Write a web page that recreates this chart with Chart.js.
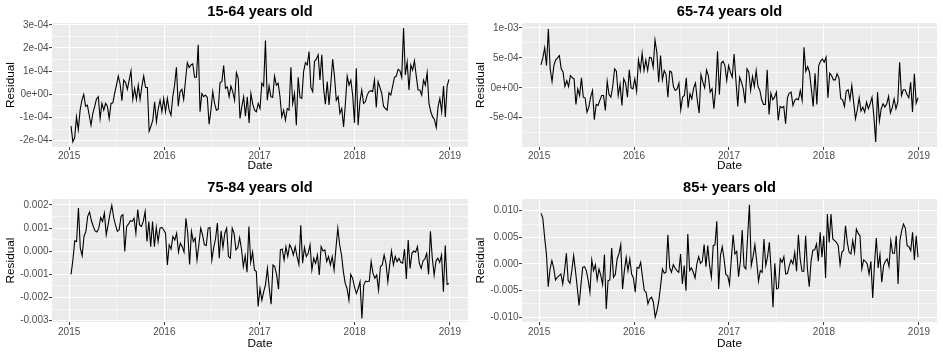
<!DOCTYPE html>
<html>
<head>
<meta charset="utf-8">
<script src="https://cdn.jsdelivr.net/npm/chart.js@4.4.1/dist/chart.umd.min.js"></script>
<style>
  body { margin: 0; background: #fff; }
  #wrap { position: relative; width: 943px; height: 355px; overflow: hidden; }
  #wrap canvas { position: absolute; }
</style>
</head>
<body>
<div id="wrap">
  <canvas id="p1" width="471" height="176" style="left:0;top:0"></canvas>
  <canvas id="p2" width="473" height="176" style="left:470px;top:0"></canvas>
  <canvas id="p3" width="471" height="179" style="left:0;top:176px"></canvas>
  <canvas id="p4" width="473" height="179" style="left:470px;top:176px"></canvas>
</div>
<script>
// weekly residuals, first and last week as decimal years
const dateStart = 2015.02;
const dateEnd = 2018.99;
const yearTicks = [2015, 2016, 2017, 2018, 2019];
const yearLabels = ["2015", "2016", "2017", "2018", "2019"];

// 15-64 years old (x 1e-4)
const resid1564 = [-1.37,-2.05,-1.86,-0.97,-1.52,-0.68,-0.25,0.00,-0.51,-0.46,-0.90,-1.33,-0.82,-0.53,-0.20,-0.10,-1.04,-0.39,-0.68,-0.39,-0.51,-1.04,-0.39,-0.36,0.04,0.40,0.79,0.45,-0.27,0.62,0.51,0.22,0.62,1.01,-0.22,0.26,-0.22,0.40,-0.22,0.36,0.79,0.30,0.30,-1.59,-1.37,-1.11,-0.32,-1.18,-0.61,-0.25,-0.75,-0.17,-0.75,-0.17,-0.68,-0.90,-0.10,0.40,1.17,-0.51,0.12,0.22,-0.22,0.62,1.37,1.16,1.27,1.32,0.74,0.74,2.14,-0.75,0.04,-0.10,-0.03,-0.13,-1.29,-0.68,0.12,-0.39,-0.68,-0.65,0.51,0.55,1.24,0.26,0.33,-0.10,0.36,0.12,-0.25,0.94,0.69,-1.04,-0.53,-0.10,-0.94,-0.10,-1.23,0.04,-0.42,-0.68,-0.75,
  -0.39,-0.61,0.48,0.36,2.33,-0.25,0.36,-0.10,-0.13,0.79,0.40,0.48,-0.10,-0.97,-0.68,-1.11,-0.61,-0.68,1.17,-0.39,0.04,-1.33,0.74,-0.13,-0.17,0.98,1.37,1.27,1.85,0.30,0.12,1.42,1.52,1.71,0.62,1.71,0.26,-0.42,0.55,-0.46,0.48,1.52,0.77,-0.25,-0.10,-0.82,-0.61,-1.40,-0.39,0.79,0.40,0.62,-0.03,-1.23,1.13,-1.33,-0.32,0.19,-0.39,-0.32,-0.03,0.12,0.16,0.12,0.62,-0.56,0.55,0.30,0.04,-0.51,-0.61,-0.68,0.07,-0.03,0.36,0.74,0.79,1.08,1.03,0.74,2.86,0.84,1.40,0.19,1.27,1.05,1.45,0.79,0.19,0.19,-0.03,0.62,0.40,0.94,-0.39,-0.75,-0.97,-1.08,-1.43,-0.53,-0.17,-0.75,0.36,-0.97,0.36,0.65];

// 65-74 years old (x 1e-4)
const resid6574 = [3.83,5.0,6.67,3.72,9.83,3.17,1.06,3.72,4.67,5.0,5.39,3.17,2.61,0.22,1.22,0.22,2.06,1.67,1.5,-2.78,-0.17,-1.28,1.67,-1.56,-1.67,-4.06,-3.22,-1.56,-0.44,-5.33,-2.78,-2.94,-2.11,-1.28,-1.28,-3.78,1.11,-1.11,-1.56,0.22,3.17,2.78,-1.28,0.56,-2.94,1.5,0.78,-1.56,3.0,0,-0.17,1.5,-0.56,4.67,2.89,5.78,2.89,4.67,2.89,5.11,5.0,3.44,8.0,5.94,0.94,5.39,1.33,2.89,2.22,-1.56,2.78,2.61,0.22,-0.44,-0.17,0.78,-3.67,-1.56,-1.28,1.67,-3.33,-1.0,-1.83,0,0.78,-2.11,-4.22,2.22,0.94,0,3.0,2.06,-0.72,-0.17,-3.5,-0.17,6.11,
  -1.11,4.11,4.44,3.72,1.22,3.72,2.61,1.78,5.67,1.22,-3.11,1.78,0.94,-0.17,-2.56,3.17,2.61,-0.44,1.89,0.22,2.89,0.22,-0.44,-2.0,-2.78,-2.78,3.0,-4.44,-0.89,-2.0,-1.56,-0.72,-5.44,-3.11,-3.33,-3.11,-6.0,-1.67,-0.89,-0.72,-2.94,-2.11,-1.83,-2.0,-0.44,-2.11,6.78,2.78,3.56,2.61,-0.17,-3.11,2.44,-2.78,3.72,4.44,4.83,4.28,5.11,-1.67,2.44,2.06,1.33,1.33,2.33,1.67,-1.83,-2.0,-3.11,-0.56,-0.33,-2.0,0.39,-2.39,-5.17,-3.67,-1.67,-3.89,-3.22,-4.06,-2.39,-3.5,-2.67,-1.56,-4.78,-9.06,-0.72,-5.56,-3.5,-2.67,-3.22,-2.67,-1.44,-4.22,-3.33,-1.83,-3.5,-2.39,4.28,-1.28,-0.33,-0.33,-1.11,-1.67,0.94,-4.06,2.33,-2.56,-1.67];

// 75-84 years old (x 1e-3)
const resid7584 = [-1.0,-0.38,0.45,0.42,1.87,0.13,-0.19,0.64,0.86,1.51,1.70,1.32,1.07,0.88,0.83,1.0,1.46,1.29,1.65,0.71,1.14,1.61,1.99,1.46,1.14,0.86,0.93,1.51,1.58,-0.01,1.07,1.17,1.32,1.29,1.43,0.78,1.80,1.14,1.07,1.29,1.72,0.42,1.29,0.20,1.29,0.20,1.03,0.42,1.0,1.03,0.93,0.78,-0.59,0.28,0.10,0.64,0.49,0.78,-0.04,0.35,0.20,-0.04,1.43,0.78,-0.57,0.86,0.42,0.57,-0.38,0.28,1.0,0.71,0.28,0.25,1.0,1.03,-0.38,0.16,0.54,1.22,-0.30,0.88,0.16,0.78,1.0,-0.23,-0.30,1.0,0.78,0.06,0.16,0.59,0.10,-0.67,-0.19,-0.91,
  1.07,-0.48,-0.04,-0.81,-0.88,-2.39,-1.61,-2.12,-1.75,-1.43,-0.74,-1.61,-2.29,-0.59,-0.67,-1.03,-1.64,0.06,0.10,-0.38,0.20,-0.23,0.28,0.13,-0.16,0.20,-0.23,-0.57,1.12,-0.52,0.16,-0.23,-0.09,0.28,-0.81,-0.30,-0.52,-0.16,-1.03,0.20,0.01,0.06,-0.45,-0.23,-0.59,-0.23,-0.81,0.13,1.0,0.28,-0.16,-0.88,-1.39,-1.61,-2.12,-1.0,-1.17,-1.54,-1.83,-1.61,-1.32,-2.91,-1.46,-1.29,-1.32,-1.29,-0.45,-0.96,-1.17,-1.03,-1.68,-0.67,-0.59,-0.16,-0.52,-1.32,-0.59,0.01,-0.59,-0.23,-0.45,-0.30,-0.48,-0.52,0.10,-1.20,0.49,-0.74,-0.09,0.01,-0.04,0.20,-0.52,-0.74,-0.42,-0.33,-0.09,-1.0,0.86,-0.30,-1.03,-0.42,-0.30,-0.48,-0.16,-1.75,0.25,-1.43,-1.39];

// 85+ years old (x 1e-3)
const resid85 = [9.5,8.63,5.0,1.88,-4.25,-0.94,0.63,-0.75,-3.0,-2.5,-2.19,-1.88,-3.75,-1.25,2.0,-3.13,-3.63,-1.25,1.56,-1.25,-4.38,-7.81,-4.06,-0.63,-0.5,-1.25,-3.0,-5.31,0.75,-1.25,-0.13,-3.0,-0.94,-2.19,-3.88,1.75,-8.44,-3.13,-3.0,3.0,-2.5,-2.0,0.94,1.88,3.63,-4.69,-1.25,1.25,-1.25,0.94,-1.88,-2.63,-5.31,-0.63,-0.81,0.31,-2.5,-5.0,-5.31,-7.5,-6.56,-6.25,-7.19,-10.0,-8.75,-6.88,-4.06,-0.94,-1.75,-1.56,5.5,-0.75,-1.56,-0.13,-0.81,-1.25,-1.56,1.88,-3.75,-0.31,-5.0,5.63,-1.25,-0.75,-1.56,-2.63,0,1.38,0.13,0.5,3.63,-0.5,3.44,-0.31,-2.5,3.44,3.63,8.0,-4.69,
  1.56,3.25,0.94,-2.0,-2.19,-3.88,0.94,5.5,1.88,2.38,-2.38,0.5,6.38,-0.5,-0.94,5.13,11.13,-0.31,1.38,3.63,0.5,-3.25,-1.25,-1.56,4.69,-0.31,1.38,4.06,-1.38,-8.13,0.13,-4.69,-4.5,0.94,0.31,1.38,-1.88,-1.75,-0.31,0.75,0,2.19,-1.38,5.5,0.94,-1.38,-1.38,5.31,-0.94,-4.25,0.5,2.63,2.63,3.75,0.5,5.94,1.25,5.31,-2.63,9.38,4.06,9.38,4.69,4.38,4.06,3.44,-0.13,2.19,2.63,7.19,4.06,2.19,1.88,4.38,2.19,6.56,5.75,5.31,-0.94,0.75,0.5,0,-1.88,0.5,-6.38,0,4.88,-0.75,1.75,-3.44,-0.31,0.5,0.94,-0.5,4.38,2.0,2.0,5.31,-3.75,4.38,6.25,7.5,6.75,3.44,3.25,2.5,5.94,0.75,5.31,1.25];

// y breaks and their labels
const breaks1564 = [-2e-4, -1e-4, 0, 1e-4, 2e-4, 3e-4];
const labels1564 = ["-2e-04", "-1e-04", "0e+00", "1e-04", "2e-04", "3e-04"];
const breaks6574 = [-1e-3, -5e-4, 0, 5e-4, 1e-3];
const labels6574 = ["-1e-03", "-5e-04", "0e+00", "5e-04", "1e-03"];
const breaks7584 = [-0.003, -0.002, -0.001, 0, 0.001, 0.002];
const labels7584 = ["-0.003", "-0.002", "-0.001", "0.000", "0.001", "0.002"];
const breaks85 = [-0.01, -0.005, 0, 0.005, 0.01];
const labels85 = ["-0.010", "-0.005", "0.000", "0.005", "0.010"];

const font = "'Liberation Sans', Arial, Helvetica, sans-serif";

// grey panel behind the grid, like ggplot
const panelBg = {
  id: "panelBg",
  beforeDraw(chart) {
    const a = chart.chartArea;
    const c = chart.ctx;
    c.save();
    c.fillStyle = "#EBEBEB";
    c.fillRect(a.left, a.top, a.right - a.left, a.bottom - a.top);
    c.restore();
  },
};

function withMinors(major, min, max) {
  const all = major.slice();
  for (let i = 0; i < major.length - 1; i++) all.push((major[i] + major[i + 1]) / 2);
  return all.filter((v) => v >= min && v <= max).sort((a, b) => a - b);
}

function axisGrid(labelMap) {
  return {
    color: "#FFFFFF",
    lineWidth: (ctx) => (ctx.tick && ctx.tick.value in labelMap ? 1.1 : 0.55),
    tickColor: (ctx) => (ctx.tick && ctx.tick.value in labelMap ? "#333333" : "rgba(0,0,0,0)"),
    tickLength: 3,
    tickWidth: 1,
  };
}

function residualChart(id, cfg) {
  const yMap = {};
  cfg.breaks.forEach((v, i) => (yMap[v] = cfg.labels[i]));
  const xMap = {};
  yearTicks.forEach((v, i) => (xMap[v] = yearLabels[i]));

  const xMin = 2014.82, xMax = 2019.19;
  const yTicks = withMinors(cfg.breaks, cfg.yMin, cfg.yMax);
  const xTicks = withMinors(yearTicks, xMin, xMax);

  const n = cfg.values.length;
  const points = cfg.values.map((v, i) => ({
    x: dateStart + (i * (dateEnd - dateStart)) / (n - 1),
    y: v * cfg.unit,
  }));

  new Chart(document.getElementById(id), {
    type: "line",
    data: {
      datasets: [
        {
          data: points,
          borderColor: "#000000",
          borderWidth: 1.1,
          pointRadius: 0,
          tension: 0,
          fill: false,
        },
      ],
    },
    options: {
      responsive: false,
      animation: false,
      devicePixelRatio: 1,
      layout: { padding: { right: cfg.padRight, left: 0, top: 0, bottom: 0 } },
      plugins: {
        legend: { display: false },
        tooltip: { enabled: false },
        title: {
          display: true,
          text: cfg.title,
          fullSize: false,
          color: "#000000",
          font: { family: font, size: 14.6, weight: "bold" },
          padding: { top: 3.5, bottom: 2 },
        },
      },
      scales: {
        x: {
          type: "linear",
          min: xMin,
          max: xMax,
          afterBuildTicks: (ax) => { ax.ticks = xTicks.map((v) => ({ value: v })); },
          afterFit: (ax) => { ax.height = cfg.xHeight; },
          border: { display: false },
          grid: axisGrid(xMap),
          ticks: {
            autoSkip: false,
            maxRotation: 0,
            padding: cfg.xTickPad,
            color: "#4D4D4D",
            font: { family: font, size: 10 },
            callback: (v) => (v in xMap ? xMap[v] : ""),
          },
          title: {
            display: true,
            text: "Date",
            color: "#000000",
            font: { family: font, size: 11.8 },
            padding: { top: 0, bottom: cfg.xTitlePad },
          },
        },
        y: {
          type: "linear",
          min: cfg.yMin,
          max: cfg.yMax,
          afterBuildTicks: (ax) => { ax.ticks = yTicks.map((v) => ({ value: v })); },
          afterFit: (ax) => { ax.width = 52; },
          border: { display: false },
          grid: axisGrid(yMap),
          ticks: {
            autoSkip: false,
            padding: 0.5,
            color: "#4D4D4D",
            font: { family: font, size: 10 },
            callback: (v) => (v in yMap ? yMap[v] : ""),
          },
          title: {
            display: true,
            text: "Residual",
            color: "#000000",
            font: { family: font, size: 11.8 },
            padding: { top: 3.2, bottom: 0 },
          },
        },
      },
    },
    plugins: [panelBg],
  });
}

// chart 1
residualChart("p1", {
  title: "15-64 years old", values: resid1564, unit: 1e-4,
  breaks: breaks1564, labels: labels1564, yMin: -2.27e-4, yMax: 3.08e-4,
  padRight: 3, xHeight: 29, xTickPad: 0, xTitlePad: 3,
});

// chart 2
residualChart("p2", {
  title: "65-74 years old", values: resid6574, unit: 1e-4,
  breaks: breaks6574, labels: labels6574, yMin: -0.99e-3, yMax: 1.084e-3,
  padRight: 6, xHeight: 29, xTickPad: 0, xTitlePad: 3,
});

// chart 3
residualChart("p3", {
  title: "75-84 years old", values: resid7584, unit: 1e-3,
  breaks: breaks7584, labels: labels7584, yMin: -0.00306, yMax: 0.00226,
  padRight: 3, xHeight: 33, xTickPad: 1, xTitlePad: 4.5,
});

// chart 4
residualChart("p4", {
  title: "85+ years old", values: resid85, unit: 1e-3,
  breaks: breaks85, labels: labels85, yMin: -0.0109, yMax: 0.0122,
  padRight: 6, xHeight: 33, xTickPad: 1, xTitlePad: 4.5,
});
</script>
</body>
</html>
